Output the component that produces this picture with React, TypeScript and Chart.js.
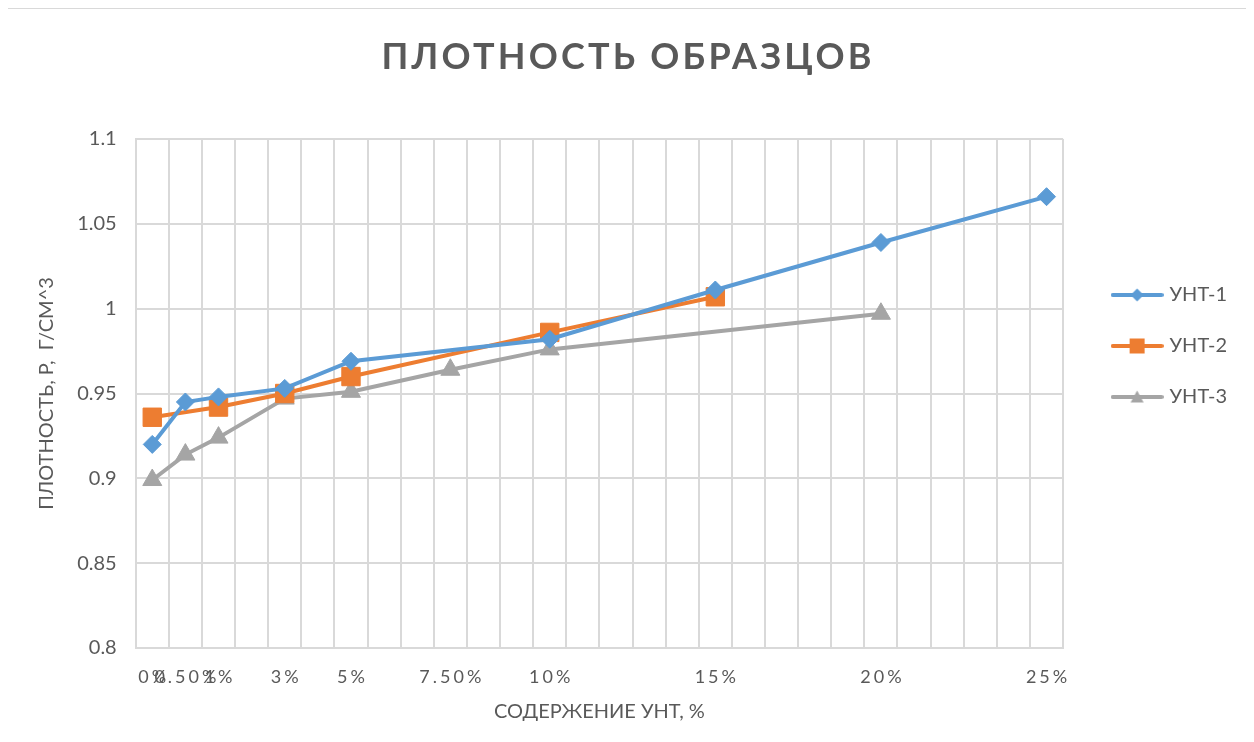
import React, { useEffect, useRef } from 'react';
import { Chart, registerables } from 'chart.js';

Chart.register(...registerables);

const chartTitle = 'ПЛОТНОСТЬ ОБРАЗЦОВ';
const xAxisTitle = 'СОДЕРЖЕНИЕ УНТ, %';
const yAxisTitle = 'ПЛОТНОСТЬ, Р,  Г/СМ^3';

const categories = ['0%', '0.50%', '1%', '3%', '5%', '7.50%', '10%', '15%', '20%', '25%'];
const axisPositions = [0, 1, 2, 4, 6, 9, 12, 17, 22, 27];

const seriesNames = ['УНТ-1', 'УНТ-2', 'УНТ-3'];
const unt1 = [0.92, 0.945, 0.948, 0.953, 0.969, null, 0.982, 1.011, 1.039, 1.066];
const unt2 = [0.936, null, 0.942, 0.95, 0.96, null, 0.986, 1.007, null, null];
const unt3 = [0.899, 0.914, 0.924, 0.947, 0.951, 0.964, 0.976, null, 0.997, null];

const yTicks = [0.8, 0.85, 0.9, 0.95, 1, 1.05, 1.1];

const colors = ['#5B9BD5', '#ED7D31', '#A5A5A5'];
const pointStyles = ['rectRot', 'rect', 'triangle'];
const pointRadii = [9, 13, 11];
const TEXT = '#595959';
const GRID = '#d9d9d9';
const FONT = 'Lato, "Open Sans", sans-serif';

function toPoints(values: (number | null)[]) {
  const pts: { x: number; y: number }[] = [];
  values.forEach((v, i) => {
    if (v !== null) pts.push({ x: axisPositions[i], y: v });
  });
  return pts;
}

function legendIcon(idx: number): HTMLCanvasElement {
  const c = document.createElement('canvas');
  c.width = 53;
  c.height = 18;
  const g = c.getContext('2d')!;
  const cy = 9;
  g.strokeStyle = colors[idx];
  g.fillStyle = colors[idx];
  g.lineWidth = 4;
  g.lineCap = 'round';
  g.beginPath();
  g.moveTo(2, cy);
  g.lineTo(51, cy);
  g.stroke();
  const cx = 26.5;
  g.beginPath();
  if (idx === 0) {
    g.moveTo(cx, cy - 6.5);
    g.lineTo(cx + 6.5, cy);
    g.lineTo(cx, cy + 6.5);
    g.lineTo(cx - 6.5, cy);
  } else if (idx === 1) {
    g.rect(cx - 7.5, cy - 7.5, 15, 15);
  } else {
    g.moveTo(cx, cy - 6.5);
    g.lineTo(cx + 6.5, cy + 5.5);
    g.lineTo(cx - 6.5, cy + 5.5);
  }
  g.closePath();
  g.fill();
  return c;
}

const textPlugin = {
  id: 'excelText',
  afterDraw(chart: any) {
    const ctx = chart.ctx as CanvasRenderingContext2D;
    const xs = chart.scales.x;
    ctx.save();
    ctx.fillStyle = TEXT;
    ctx.textAlign = 'center';
    ctx.textBaseline = 'middle';
    ctx.font = `18px ${FONT}`;
    (ctx as any).letterSpacing = '3px';
    categories.forEach((label, i) => {
      const px = xs.getPixelForValue(axisPositions[i]);
      ctx.fillText(label, px + 1.5, xs.top + 29);
    });
    ctx.font = `bold 36px ${FONT}`;
    (ctx as any).letterSpacing = '3.2px';
    ctx.fillText(chartTitle, chart.width / 2 + 1.6, 48);
    ctx.restore();
  },
};

export default function App() {
  const ref = useRef<HTMLCanvasElement>(null);

  useEffect(() => {
    if (!ref.current) return;
    const icons = [0, 1, 2].map(legendIcon);
    const series = [unt1, unt2, unt3];
    const gridValues: number[] = [];
    for (let v = -0.5; v <= 27.5; v += 1) gridValues.push(v);

    const chart = new Chart(ref.current, {
      type: 'line',
      data: {
        datasets: series.map((s, i) => ({
          label: seriesNames[i],
          data: toPoints(s),
          xAxisID: 'x',
          yAxisID: 'y',
          borderColor: colors[i],
          backgroundColor: colors[i],
          borderWidth: 4,
          pointStyle: pointStyles[i] as any,
          pointRadius: pointRadii[i],
          pointBorderWidth: 1,
          pointBorderColor: colors[i],
          pointBackgroundColor: colors[i],
          tension: 0,
          fill: false,
        })),
      },
      options: {
        responsive: false,
        animation: false,
        devicePixelRatio: 1,
        layout: { padding: { top: 130, left: 0, right: 9, bottom: 0 } },
        plugins: {
          title: { display: false },
          tooltip: { enabled: false },
          legend: {
            position: 'right',
            align: 'start',
            title: { display: true, text: '', font: { size: 10 }, padding: { top: 103, bottom: 0 } },
            labels: {
              usePointStyle: true,
              pointStyleWidth: 45,
              padding: 31,
              color: TEXT,
              font: { family: FONT, size: 20 },
              generateLabels: () =>
                seriesNames.map((name, i) => ({
                  text: name,
                  fillStyle: colors[i],
                  strokeStyle: colors[i],
                  lineWidth: 0,
                  pointStyle: icons[i] as any,
                  hidden: false,
                  datasetIndex: i,
                  fontColor: TEXT,
                })),
            },
          },
        },
        scales: {
          x: {
            type: 'linear',
            min: -0.5,
            max: 27.5,
            afterBuildTicks: (scale: any) => {
              scale.ticks = gridValues.map((v) => ({ value: v }));
            },
            afterFit: (scale: any) => {
              scale.height = 111;
            },
            grid: { color: GRID, lineWidth: 2, drawTicks: false },
            border: { color: GRID, width: 2 },
            ticks: { display: false },
            title: {
              display: true,
              text: xAxisTitle,
              color: TEXT,
              font: { family: FONT, size: 20 },
              padding: { top: 0, bottom: 35 },
            },
          },
          y: {
            type: 'linear',
            position: 'left',
            min: 0.8,
            max: 1.1,
            afterBuildTicks: (scale: any) => {
              scale.ticks = yTicks.map((v) => ({ value: v }));
            },
            afterFit: (scale: any) => {
              scale.width = 128.7;
            },
            grid: { color: GRID, lineWidth: 2, drawTicks: false },
            border: { color: GRID, width: 2 },
            ticks: {
              padding: 19,
              color: TEXT,
              font: { family: FONT, size: 20 },
              callback: (v: any) => String(Number(Number(v).toFixed(2))),
            },
            title: {
              display: true,
              text: yAxisTitle,
              color: TEXT,
              font: { family: FONT, size: 20 },
              padding: { top: 28, bottom: 0 },
            },
          },
          gap: {
            type: 'linear',
            position: 'right',
            display: true,
            min: 0,
            max: 1,
            grid: { display: false, drawTicks: false },
            border: { display: false },
            ticks: { display: false },
            afterFit: (scale: any) => {
              scale.width = 20.5;
            },
          },
        },
      },
      plugins: [textPlugin],
    });
    return () => chart.destroy();
  }, []);

  return (
    <div
      style={{
        marginLeft: -2,
        width: 1239,
        height: 750,
        border: '1px solid #d9d9d9',
        background: '#fff',
      }}
    >
      <canvas ref={ref} width={1239} height={750} style={{ display: 'block' }} />
    </div>
  );
}
